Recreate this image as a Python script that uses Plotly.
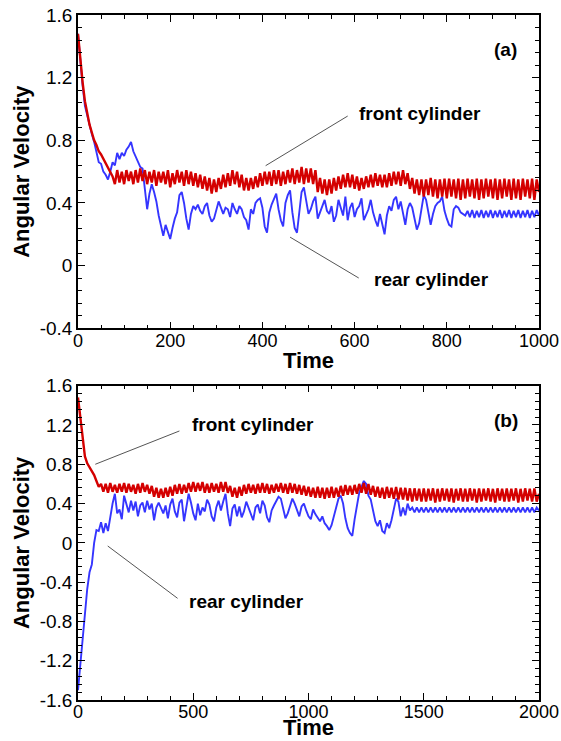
import plotly.graph_objects as go

# ---------------- data: panel (a) ----------------
time_a = list(range(0, 1001, 5))
front_a = [
    1.48, 1.31, 1.17, 1.05, 0.97, 0.90, 0.85, 0.80, 0.77, 0.73, 0.71, 0.68, 0.66, 0.63, 0.60, 0.57, 0.52, 0.61, 0.53, 0.60,
    0.52, 0.61, 0.54, 0.60, 0.52, 0.61, 0.53, 0.62, 0.54, 0.61, 0.52, 0.60, 0.53, 0.61, 0.51, 0.60, 0.53, 0.60, 0.52, 0.61,
    0.50, 0.59, 0.52, 0.61, 0.53, 0.60, 0.51, 0.61, 0.52, 0.60, 0.51, 0.59, 0.50, 0.58, 0.49, 0.57, 0.48, 0.56, 0.46, 0.55,
    0.47, 0.56, 0.49, 0.58, 0.50, 0.59, 0.51, 0.61, 0.52, 0.60, 0.50, 0.58, 0.48, 0.56, 0.48, 0.56, 0.49, 0.57, 0.50, 0.59,
    0.51, 0.60, 0.52, 0.60, 0.51, 0.61, 0.52, 0.61, 0.51, 0.60, 0.52, 0.61, 0.53, 0.62, 0.52, 0.61, 0.53, 0.63, 0.52, 0.62,
    0.53, 0.62, 0.52, 0.61, 0.47, 0.56, 0.46, 0.55, 0.45, 0.55, 0.46, 0.56, 0.48, 0.57, 0.49, 0.58, 0.50, 0.59, 0.50, 0.58,
    0.49, 0.57, 0.48, 0.56, 0.49, 0.57, 0.50, 0.58, 0.50, 0.59, 0.51, 0.58, 0.50, 0.58, 0.50, 0.59, 0.51, 0.60, 0.52, 0.60,
    0.51, 0.61, 0.52, 0.59, 0.49, 0.56, 0.46, 0.55, 0.45, 0.55, 0.44, 0.55, 0.45, 0.56, 0.44, 0.55, 0.43, 0.55, 0.44, 0.555,
    0.43, 0.555, 0.44, 0.55, 0.43, 0.555, 0.42, 0.55, 0.43, 0.555, 0.44, 0.55, 0.43, 0.555, 0.42, 0.55, 0.43, 0.555, 0.44, 0.55,
    0.43, 0.555, 0.42, 0.55, 0.43, 0.555, 0.44, 0.55, 0.42, 0.555, 0.43, 0.55, 0.42, 0.555, 0.44, 0.55, 0.43, 0.555, 0.42, 0.55,
    0.47,
]
rear_a = [
    1.48, 1.30, 1.15, 1.02, 0.96, 0.89, 0.84, 0.79, 0.72, 0.66, 0.65, 0.60, 0.58, 0.55, 0.60, 0.66, 0.64, 0.72, 0.68, 0.72,
    0.70, 0.74, 0.76, 0.79, 0.73, 0.70, 0.66, 0.63, 0.62, 0.47, 0.36, 0.46, 0.52, 0.47, 0.41, 0.32, 0.26, 0.19, 0.26, 0.22,
    0.17, 0.24, 0.30, 0.34, 0.45, 0.47, 0.40, 0.30, 0.23, 0.33, 0.38, 0.36, 0.39, 0.35, 0.33, 0.38, 0.40, 0.32, 0.28, 0.30,
    0.35, 0.41, 0.37, 0.33, 0.37, 0.36, 0.31, 0.40, 0.36, 0.33, 0.38, 0.36, 0.31, 0.29, 0.23, 0.36, 0.33, 0.40, 0.42, 0.43,
    0.37, 0.25, 0.21, 0.34, 0.39, 0.42, 0.46, 0.36, 0.29, 0.25, 0.40, 0.45, 0.48, 0.34, 0.24, 0.21, 0.34, 0.47, 0.50, 0.40,
    0.33, 0.36, 0.41, 0.44, 0.30, 0.34, 0.38, 0.42, 0.35, 0.33, 0.38, 0.28, 0.32, 0.42, 0.37, 0.32, 0.44, 0.29, 0.37, 0.40,
    0.31, 0.36, 0.38, 0.43, 0.29, 0.33, 0.36, 0.42, 0.34, 0.29, 0.25, 0.33, 0.26, 0.20, 0.32, 0.38, 0.35, 0.42, 0.44, 0.36,
    0.41, 0.33, 0.26, 0.36, 0.40, 0.37, 0.31, 0.23, 0.27, 0.36, 0.45, 0.42, 0.34, 0.26, 0.33, 0.38, 0.40, 0.41, 0.44, 0.35,
    0.30, 0.26, 0.25, 0.36, 0.38, 0.37, 0.34, 0.33, 0.32, 0.35, 0.31, 0.355, 0.305, 0.35, 0.31, 0.355, 0.305, 0.35, 0.31, 0.355,
    0.305, 0.35, 0.31, 0.355, 0.305, 0.35, 0.31, 0.355, 0.305, 0.35, 0.31, 0.355, 0.305, 0.35, 0.31, 0.355, 0.305, 0.35, 0.31, 0.355,
    0.32,
]

# ---------------- data: panel (b) ----------------
time_b = list(range(0, 2001, 10))
front_b = [
    1.48, 1.28, 1.06, 0.88, 0.81, 0.77, 0.74, 0.69, 0.63, 0.57,
    0.60, 0.52, 0.60, 0.51, 0.61, 0.52, 0.59, 0.51, 0.60, 0.52,
    0.61, 0.51, 0.60, 0.52, 0.59, 0.50, 0.60, 0.51, 0.61, 0.52,
    0.59, 0.50, 0.58, 0.47, 0.56, 0.46, 0.55, 0.46, 0.56, 0.47,
    0.57, 0.48, 0.59, 0.50, 0.60, 0.50, 0.59, 0.51, 0.61, 0.52,
    0.62, 0.52, 0.61, 0.53, 0.62, 0.51, 0.60, 0.51, 0.61, 0.52,
    0.60, 0.51, 0.62, 0.52, 0.62, 0.51, 0.58, 0.47, 0.56, 0.46,
    0.57, 0.48, 0.59, 0.50, 0.60, 0.51, 0.59, 0.50, 0.60, 0.51,
    0.61, 0.51, 0.60, 0.50, 0.59, 0.51, 0.60, 0.52, 0.61, 0.51,
    0.60, 0.50, 0.61, 0.51, 0.60, 0.50, 0.59, 0.49, 0.58, 0.48,
    0.57, 0.47, 0.56, 0.46, 0.57, 0.46, 0.56, 0.45, 0.56, 0.46,
    0.57, 0.46, 0.56, 0.47, 0.58, 0.48, 0.59, 0.49, 0.58, 0.49,
    0.59, 0.50, 0.60, 0.51, 0.61, 0.50, 0.60, 0.49, 0.58, 0.47,
    0.57, 0.46, 0.56, 0.45, 0.57, 0.46, 0.56, 0.45, 0.57, 0.44,
    0.56, 0.44, 0.56, 0.43, 0.555, 0.42, 0.555, 0.43, 0.55, 0.42,
    0.555, 0.42, 0.55, 0.43, 0.555, 0.41, 0.55, 0.42, 0.555, 0.43,
    0.55, 0.42, 0.555, 0.41, 0.55, 0.43, 0.555, 0.42, 0.55, 0.42,
    0.555, 0.43, 0.55, 0.41, 0.555, 0.42, 0.55, 0.43, 0.555, 0.42,
    0.55, 0.41, 0.555, 0.43, 0.55, 0.42, 0.555, 0.42, 0.55, 0.43,
    0.555, 0.41, 0.55, 0.42, 0.555, 0.43, 0.55, 0.42, 0.555, 0.42,
    0.50,
]
rear_b = [
    -1.50, -1.25, -0.95, -0.70, -0.47, -0.30, -0.22, 0.00, 0.13, 0.12,
    0.21, 0.10, 0.20, 0.12, 0.27, 0.40, 0.50, 0.30, 0.34, 0.24,
    0.48, 0.40, 0.31, 0.43, 0.33, 0.42, 0.27, 0.38, 0.41, 0.31,
    0.43, 0.34, 0.40, 0.23, 0.36, 0.41, 0.35, 0.30, 0.38, 0.25,
    0.39, 0.45, 0.32, 0.26, 0.41, 0.44, 0.22, 0.37, 0.50, 0.41,
    0.30, 0.23, 0.40, 0.28, 0.36, 0.32, 0.44, 0.39, 0.27, 0.22,
    0.36, 0.43, 0.33, 0.42, 0.50, 0.30, 0.17, 0.35, 0.39, 0.27,
    0.37, 0.26, 0.32, 0.42, 0.35, 0.28, 0.23, 0.36, 0.39, 0.30,
    0.43, 0.38, 0.26, 0.21, 0.33, 0.38, 0.43, 0.47, 0.45, 0.33,
    0.25, 0.30, 0.38, 0.45, 0.40, 0.33, 0.27, 0.37, 0.40, 0.33,
    0.27, 0.24, 0.34, 0.29, 0.25, 0.22, 0.27, 0.20, 0.17, 0.13,
    0.18, 0.27, 0.38, 0.45, 0.48, 0.40, 0.25, 0.15, 0.10, 0.07,
    0.24, 0.40, 0.51, 0.57, 0.63, 0.60, 0.48, 0.44, 0.33, 0.22,
    0.17, 0.23, 0.12, 0.10, 0.20, 0.15, 0.23, 0.36, 0.45, 0.42,
    0.27, 0.36, 0.28, 0.40, 0.33, 0.36, 0.31, 0.36, 0.31, 0.36,
    0.31, 0.36, 0.31, 0.36, 0.31, 0.36, 0.31, 0.36, 0.31, 0.36,
    0.31, 0.36, 0.31, 0.36, 0.31, 0.36, 0.31, 0.36, 0.31, 0.36,
    0.31, 0.36, 0.31, 0.36, 0.31, 0.36, 0.31, 0.36, 0.31, 0.36,
    0.31, 0.36, 0.31, 0.36, 0.31, 0.36, 0.31, 0.36, 0.31, 0.36,
    0.31, 0.36, 0.31, 0.36, 0.31, 0.36, 0.31, 0.36, 0.31, 0.36,
    0.33,
]

# ---------------- tick labels ----------------
y_ticks_a = [-0.4, 0, 0.4, 0.8, 1.2, 1.6]
y_text_a = ["-0.4", "0", "0.4", "0.8", "1.2", "1.6"]
y_ticks_b = [-1.6, -1.2, -0.8, -0.4, 0, 0.4, 0.8, 1.2, 1.6]
y_text_b = ["-1.6", "-1.2", "-0.8", "-0.4", "0", "0.4", "0.8", "1.2", "1.6"]
x_ticks_a = [0, 200, 400, 600, 800, 1000]
x_ticks_b = [0, 500, 1000, 1500, 2000]

RED = "#d40000"
BLUE = "#3535ff"
FONT = "Liberation Sans, Arial, Helvetica, sans-serif"

fig = go.Figure()
fig.add_trace(go.Scatter(x=time_a, y=rear_a, mode="lines", line=dict(color=BLUE, width=1.9),
                         xaxis="x", yaxis="y", name="rear cylinder"))
fig.add_trace(go.Scatter(x=time_a, y=front_a, mode="lines", line=dict(color=RED, width=2.4),
                         xaxis="x", yaxis="y", name="front cylinder"))
fig.add_trace(go.Scatter(x=time_b, y=rear_b, mode="lines", line=dict(color=BLUE, width=1.9),
                         xaxis="x2", yaxis="y2", name="rear cylinder"))
fig.add_trace(go.Scatter(x=time_b, y=front_b, mode="lines", line=dict(color=RED, width=2.4),
                         xaxis="x2", yaxis="y2", name="front cylinder"))

W, H = 561, 741
xdom = [78 / W, 539 / W]
ydom_a = [(H - 328.3) / H, (H - 15) / H]
ydom_b = [(H - 700) / H, (H - 385.7) / H]

def xaxis(dom, rng, tv, minor_dt, anchor):
    return dict(domain=dom, range=rng, anchor=anchor, tickvals=tv, automargin=False,
                ticks="inside", ticklen=7, tickwidth=1.3, tickcolor="black", ticklabelstandoff=-5,
                minor=dict(dtick=minor_dt, ticks="inside", ticklen=4, tickwidth=1, tickcolor="black"),
                showline=True, linecolor="black", linewidth=1.5, mirror="ticks",
                showgrid=False, zeroline=False,
                tickfont=dict(family=FONT, size=18, color="black"))

def yaxis(dom, rng, tv, tt, anchor):
    return dict(domain=dom, range=rng, anchor=anchor, tickvals=tv, ticktext=tt, automargin=False,
                ticks="inside", ticklen=7, tickwidth=1.3, tickcolor="black",
                minor=dict(dtick=0.08, tick0=0, ticks="inside", ticklen=4, tickwidth=1, tickcolor="black"),
                showline=True, linecolor="black", linewidth=1.5, mirror="ticks",
                showgrid=False, zeroline=False,
                tickfont=dict(family=FONT, size=19, color="black"),
                title=dict(text="<b>Angular Velocity</b>", font=dict(family=FONT, size=22, color="black"), standoff=4))

fig.update_layout(
    width=W, height=H, margin=dict(l=0, r=0, t=0, b=0),
    paper_bgcolor="white", plot_bgcolor="white", showlegend=False,
    xaxis=xaxis(xdom, [0, 1000], x_ticks_a, 50, "y"),
    yaxis=yaxis(ydom_a, [-0.4, 1.6], y_ticks_a, y_text_a, "x"),
    xaxis2=xaxis(xdom, [0, 2000], x_ticks_b, 100, "y2"),
    yaxis2=yaxis(ydom_b, [-1.6, 1.6], y_ticks_b, y_text_b, "x2"),
)

# x-axis titles placed as paper annotations (the bottom one sits at the very edge)
tf = dict(family=FONT, size=22, color="black")
fig.add_annotation(xref="paper", yref="paper", x=(78 + 539) / 2 / W, y=(H - 360) / H, text="<b>Time</b>",
                   showarrow=False, xanchor="center", yanchor="middle", font=tf)
fig.add_annotation(xref="paper", yref="paper", x=(78 + 539) / 2 / W, y=0, text="<b>Time</b>",
                   showarrow=False, xanchor="center", yanchor="bottom", font=tf, borderpad=0)

lc = dict(color="#555555", width=1)
fig.add_shape(type="line", xref="x", yref="y", x0=585, y0=0.955, x1=407, y1=0.638, line=lc)
fig.add_shape(type="line", xref="x", yref="y", x0=460, y0=0.182, x1=609, y1=-0.079, line=lc)
fig.add_shape(type="line", xref="x2", yref="y2", x0=440, y0=1.139, x1=75, y1=0.80, line=lc)
fig.add_shape(type="line", xref="x2", yref="y2", x0=129, y0=-0.032, x1=432, y1=-0.565, line=lc)

af = dict(family=FONT, size=19, color="black")
fig.add_annotation(xref="x", yref="y", x=606, y=0.973, text="<b>front cylinder</b>", showarrow=False, xanchor="left", yanchor="middle", font=af)
fig.add_annotation(xref="x", yref="y", x=637, y=-0.091, text="<b>rear cylinder</b>", showarrow=False, xanchor="left", yanchor="middle", font=af)
fig.add_annotation(xref="x", yref="y", x=898, y=1.381, text="<b>(a)</b>", showarrow=False, xanchor="left", yanchor="middle", font=af)
fig.add_annotation(xref="x2", yref="y2", x=487, y=1.2, text="<b>front cylinder</b>", showarrow=False, xanchor="left", yanchor="middle", font=af)
fig.add_annotation(xref="x2", yref="y2", x=475, y=-0.6, text="<b>rear cylinder</b>", showarrow=False, xanchor="left", yanchor="middle", font=af)
fig.add_annotation(xref="x2", yref="y2", x=1796, y=1.25, text="<b>(b)</b>", showarrow=False, xanchor="left", yanchor="middle", font=af)

fig.write_html("out.html")
